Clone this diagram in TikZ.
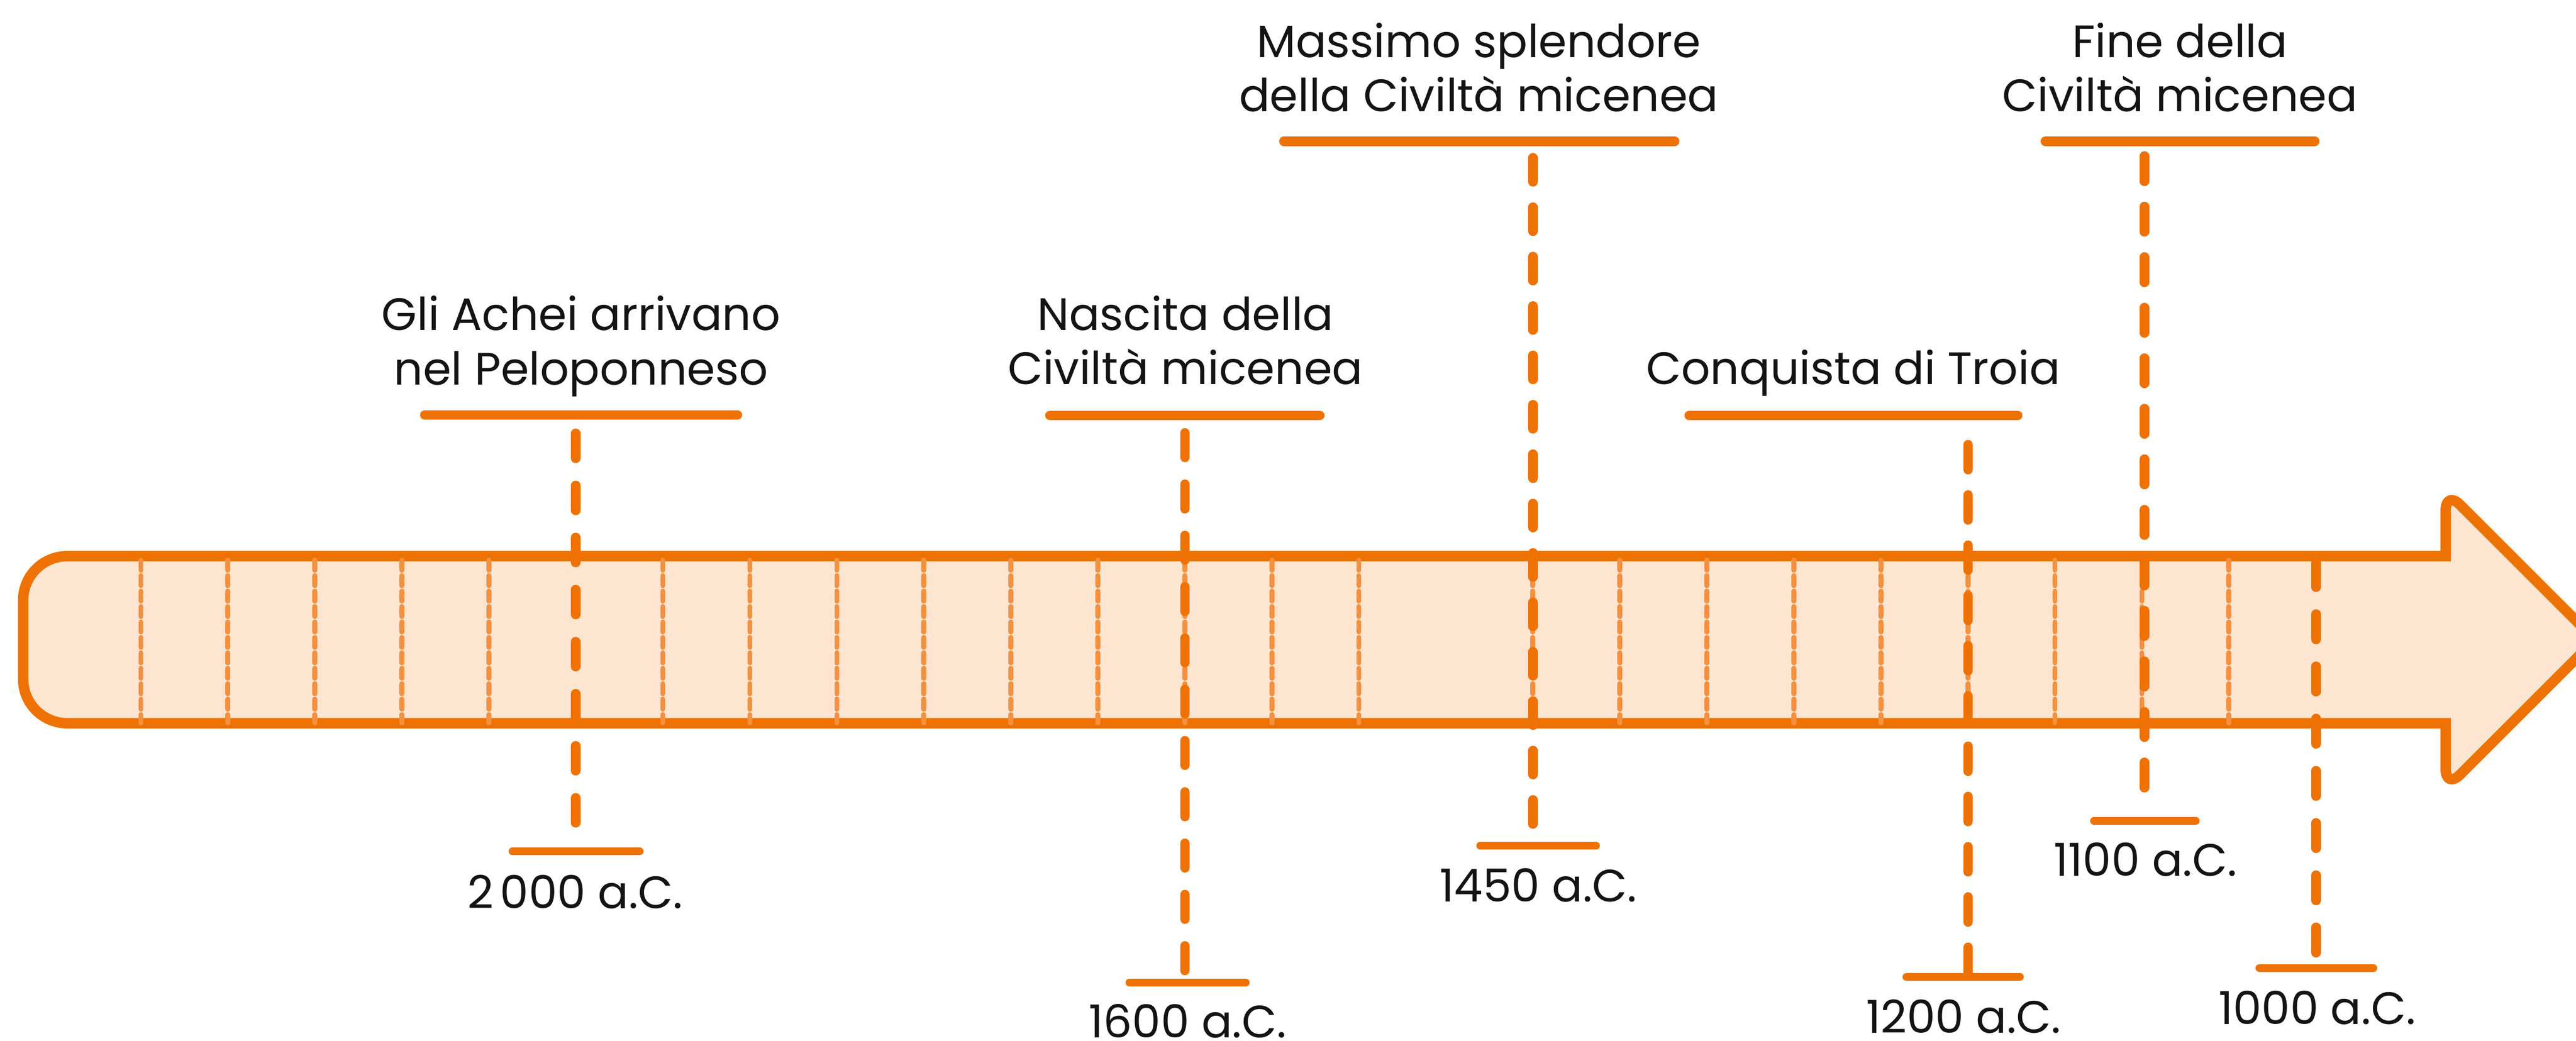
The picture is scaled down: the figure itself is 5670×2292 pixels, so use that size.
\documentclass[tikz,border=0pt]{standalone}
\usepackage{fontspec}
\setmainfont{Poppins}
\definecolor{org}{HTML}{EE7203}
\definecolor{peach}{HTML}{FDE5D0}
\definecolor{tickc}{HTML}{F39140}
\definecolor{ink}{HTML}{141414}
\begin{document}
\begin{tikzpicture}[x=1pt,y=-1pt,
  evline/.style 2 args={draw=org, line width=21, line cap=round, dash pattern=on #1 off #2},
  topbar/.style={draw=org, line width=21, line cap=round},
  botbar/.style={draw=org, line width=17, line cap=round},
  tickline/.style={draw=tickc, line width=11, line cap=round, dash pattern=on 22 off 12},
  evtext/.style={inner sep=0, anchor=base, text=ink, font=\fontsize{100}{120}\selectfont},
]
\useasboundingbox (0,0) rectangle (5670,2292);
% main arrow bar
\filldraw[fill=peach, draw=org, line width=23]
  (600,1225) -- (5383,1225)
  [rounded corners=45] -- (5383,1080) [sharp corners] -- (5712,1409)
  [rounded corners=45] -- (5383,1738) [sharp corners] -- (5383,1593)
  [rounded corners=97] -- (51,1593) -- (51,1225) [sharp corners] -- cycle;
% ticks
\foreach \k in {0,1,2,3,4,6,7,8,9,10,11,12,13,14,16,17,18,19,20,21,22,23,24}{
  \draw[tickline] ({310+191.5*\k},1234) -- ({310+191.5*\k},1592);
}
% event A: 2000
\coordinate (aT) at (1267,954.5); \coordinate (aB) at (1267,1812.5);
\draw[evline={55}{59.7}] (aT) -- (aB);
\draw[topbar] (935,914) -- (1623,914);
\draw[botbar] (1128,1875) -- (1408,1875);
\node[evtext] (tA) at (1279,728) {\begin{tabular}[t]{@{}c@{}}Gli Achei arrivano\\nel Peloponneso\end{tabular}};
\node[evtext] (dA) at (1266,2001) {2\kern14pt000 a.C.};
% event B: 1600
\coordinate (bT) at (2608,953.5); \coordinate (bB) at (2608,2137.5);
\draw[evline={54}{59}] (bT) -- (bB);
\draw[topbar] (2311,915) -- (2905,915);
\draw[botbar] (2486,2164) -- (2742,2164);
\node[evtext] (tB) at (2609,727) {\begin{tabular}[t]{@{}c@{}}Nascita della\\Civiltà micenea\end{tabular}};
\node[evtext] (dB) at (2614,2285) {1600 a.C.};
% event C: 1450
\coordinate (cT) at (3374,347.5); \coordinate (cB) at (3374,1815.5);
\draw[evline={53}{55.8}] (cT) -- (cB);
\draw[topbar] (2826,311) -- (3686,311);
\draw[botbar] (3258,1863) -- (3513,1863);
\node[evtext] (tC) at (3255,126) {\begin{tabular}[t]{@{}c@{}}Massimo splendore\\della Civiltà micenea\end{tabular}};
\node[evtext] (dC) at (3386,1986) {1450 a.C.};
% event D: 1200
\coordinate (dT) at (4332,979.5); \coordinate (dB) at (4332,2141.5);
\draw[evline={55}{55.7}] (dT) -- (dB);
\draw[topbar] (3718,915) -- (4441,915);
\draw[botbar] (4196,2152) -- (4446,2152);
\node[evtext] (tD) at (4079,847) {Conquista di Troia};
\node[evtext] (dD) at (4322,2275) {1200 a.C.};
% event E: 1100
\coordinate (eT) at (4720,343.5); \coordinate (eB) at (4720,1735.5);
\draw[evline={56}{55.3}] (eT) -- (eB);
\draw[topbar] (4502,311) -- (5095,311);
\draw[botbar] (4609,1808) -- (4833,1808);
\node[evtext] (tE) at (4798,126) {\begin{tabular}[t]{@{}c@{}}Fine della\\Civiltà micenea\end{tabular}};
\node[evtext] (dE) at (4722,1930) {1100 a.C.};
% event F: 1000
\coordinate (fT) at (5098,1237.5); \coordinate (fB) at (5098,2098.5);
\draw[evline={56}{59}] (fT) -- (fB);
\draw[botbar] (4973,2132) -- (5224,2132);
\node[evtext] (dF) at (5100,2256) {1000 a.C.};
\end{tikzpicture}
\end{document}
